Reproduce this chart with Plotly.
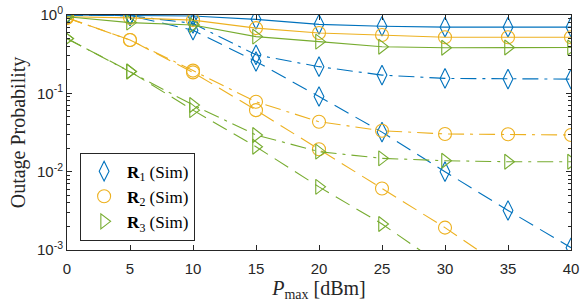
import plotly.graph_objects as go

p_max = [0, 5, 10, 15, 20, 25, 30, 35, 40]

# R1 (blue)
r1_solid   = [1.0, 0.99, 0.97, 0.88, 0.76, 0.72, 0.70, 0.70, 0.70]
r1_dashdot = [1.0, 0.98, 0.78, 0.31, 0.219, 0.171, 0.155, 0.152, 0.152]
r1_dashed  = [1.0, 0.98, 0.64, 0.255, 0.091, 0.032, 0.0100, 0.0032, 0.00107]
# R2 (orange)
r2_solid   = [0.95, 0.92, 0.86, 0.68, 0.59, 0.555, 0.52, 0.52, 0.52]
r2_dashdot = [0.92, 0.48, 0.195, 0.078, 0.0434, 0.0333, 0.0303, 0.0300, 0.0294]
r2_dashed  = [0.92, 0.48, 0.185, 0.061, 0.0193, 0.0061, 0.00193, 0.00055, 0.00017]
# R3 (green)
r3_solid   = [0.95, 0.80, 0.745, 0.53, 0.457, 0.394, 0.382, 0.385, 0.385]
r3_dashdot = [0.50, 0.19, 0.071, 0.0294, 0.018, 0.0148, 0.0138, 0.0134, 0.0134]
r3_dashed  = [0.50, 0.19, 0.061, 0.0208, 0.0064, 0.00215, 0.0006, 0.00019, 0.00006]

y_tick_vals = [1, 0.1, 0.01, 0.001]
y_tick_text = ["10<sup>0</sup>", "10<sup>-1</sup>", "10<sup>-2</sup>", "10<sup>-3</sup>"]
y_minor_vals = [m * 10.0 ** e for e in (-3, -2, -1) for m in range(2, 10)]

legend_names = ["<b>R</b><sub>1</sub> (Sim)", "<b>R</b><sub>2</sub> (Sim)", "<b>R</b><sub>3</sub> (Sim)"]
colors = ["#0072BD", "#EDB120", "#77AC30"]
symbols = ["diamond-tall-open", "circle-open", "triangle-right-open"]
msizes = [14, 13, 13]

series = [
    [r1_solid, r1_dashdot, r1_dashed],
    [r2_solid, r2_dashdot, r2_dashed],
    [r3_solid, r3_dashdot, r3_dashed],
]
dashes = ["solid", "16px,6px,3px,6px", "16px,8px"]

fig = go.Figure()
for i, group in enumerate(series):
    for ys, d in zip(group, dashes):
        fig.add_trace(go.Scatter(
            x=p_max, y=ys, mode="lines+markers", showlegend=False,
            line=dict(color=colors[i], width=1.1, dash=d),
            marker=dict(symbol=symbols[i], size=msizes[i], color=colors[i],
                        line=dict(color=colors[i], width=1.1)),
        ))
for i in range(3):
    fig.add_trace(go.Scatter(
        x=[None], y=[None], mode="markers", name=legend_names[i],
        marker=dict(symbol=symbols[i], size=msizes[i], color=colors[i],
                    line=dict(color=colors[i], width=1.1)),
    ))

axis_common = dict(
    showline=True, linecolor="#262626", linewidth=1, mirror="ticks",
    ticks="inside", ticklen=5, tickcolor="#262626", showgrid=False, zeroline=False,
    automargin=False,
    tickfont=dict(family="Liberation Sans", size=15, color="#262626"),
)
serif = "Liberation Serif"

fig.update_xaxes(
    range=[0, 40], tickvals=p_max, ticktext=[str(v) for v in p_max],
    ticklabelstandoff=5,
    title=dict(text="<i>P</i><sub>max</sub> [dBm]", standoff=2,
               font=dict(family=serif, size=20, color="#262626")),
    **axis_common,
)
fig.update_yaxes(
    type="log", range=[-3, 0],
    tickvals=y_tick_vals, ticktext=y_tick_text,
    minor=dict(ticks="inside", ticklen=3, tickcolor="#262626", showgrid=False,
               tickvals=y_minor_vals),
    title=dict(text="Outage Probability", standoff=5,
               font=dict(family=serif, size=20, color="#262626")),
    **axis_common,
)

fig.update_layout(
    width=581, height=302,
    margin=dict(l=67, r=10, t=15, b=52),
    plot_bgcolor="white", paper_bgcolor="white",
    legend=dict(
        x=0.026, y=0.04, xanchor="left", yanchor="bottom",
        bgcolor="white", bordercolor="#262626", borderwidth=1,
        font=dict(family=serif, size=17, color="#000000"),
        tracegroupgap=0, itemwidth=36,
    ),
)

fig.write_html(
    "out.html",
    config={"displayModeBar": False},
    post_script="document.body.style.margin='0px';document.body.style.overflow='hidden';",
)
